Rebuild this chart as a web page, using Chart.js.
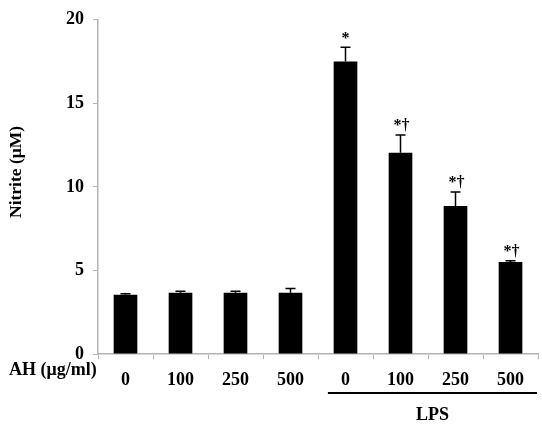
<!DOCTYPE html>
<html>
<head>
<meta charset="utf-8">
<script src="https://cdn.jsdelivr.net/npm/chart.js@4"></script>
<style>
  body { margin: 0; background: #fff; }
  #wrap { width: 542px; height: 427px; }
</style>
</head>
<body>
<div id="wrap"><canvas id="nitriteChart" width="542" height="427"></canvas></div>
<script>
const categories = ["0", "100", "250", "500", "0", "100", "250", "500"];
const nitrite = [3.55, 3.67, 3.67, 3.67, 17.5, 12.05, 8.85, 5.5];
const errors = [0.05, 0.08, 0.08, 0.25, 0.85, 1.05, 0.85, 0.08];
const marks = ["", "", "", "", "*", "*†", "*†", "*†"];
const yTicks = [0, 5, 10, 15, 20];

const serif = "'Liberation Serif', 'Times New Roman', serif";
const axisGray = "#b4b4b4";

// error bars, significance marks, axis titles and the LPS bracket
const extras = {
  id: "extras",
  afterDatasetsDraw(chart) {
    const ctx = chart.ctx;
    const x = chart.scales.x;
    const y = chart.scales.y;
    ctx.save();
    ctx.strokeStyle = "#000";
    ctx.lineWidth = 1.5;
    nitrite.forEach((v, i) => {
      const cx = x.getPixelForValue(i);
      const top = y.getPixelForValue(v + errors[i]);
      const base = y.getPixelForValue(v);
      ctx.beginPath();
      ctx.moveTo(cx, base);
      ctx.lineTo(cx, top);
      ctx.moveTo(cx - 5, top);
      ctx.lineTo(cx + 5, top);
      ctx.stroke();
      if (marks[i]) {
        ctx.fillStyle = "#000";
        ctx.font = "bold 16px " + serif;
        ctx.textAlign = "center";
        ctx.textBaseline = "bottom";
        ctx.fillText(marks[i], cx + (marks[i].length > 1 ? 1 : 0), top - 1);
      }
    });

    ctx.fillStyle = "#000";
    ctx.font = "bold 18px " + serif;
    ctx.textAlign = "left";
    ctx.textBaseline = "middle";
    ctx.fillText("AH (μg/ml)", 9, 370);

    ctx.save();
    ctx.translate(16, 172);
    ctx.rotate(-Math.PI / 2);
    ctx.textAlign = "center";
    ctx.font = "bold 17.5px " + serif;
    ctx.fillText("Nitrite (μM)", 0, 0);
    ctx.restore();

    const step = x.getPixelForValue(1) - x.getPixelForValue(0);
    const x0 = x.getPixelForValue(4) - step * 0.32;
    const x1 = x.right - 1;
    ctx.lineWidth = 2;
    ctx.beginPath();
    ctx.moveTo(x0, 393);
    ctx.lineTo(x1, 393);
    ctx.stroke();
    ctx.textAlign = "center";
    ctx.fillText("LPS", (x0 + x1) / 2, 415);
    ctx.restore();
  }
};

new Chart(document.getElementById("nitriteChart"), {
  type: "bar",
  data: {
    labels: categories,
    datasets: [{
      label: "Nitrite",
      data: nitrite,
      backgroundColor: "#000",
      borderWidth: 0,
      categoryPercentage: 1,
      barPercentage: 0.43
    }]
  },
  options: {
    responsive: false,
    animation: false,
    layout: { padding: { top: 11, right: 4, left: 0, bottom: 0 } },
    plugins: {
      legend: { display: false },
      tooltip: { enabled: false }
    },
    scales: {
      x: {
        afterFit(scale) { scale.height = 73; },
        grid: { drawOnChartArea: false, tickLength: 5, color: axisGray, offset: true },
        border: { color: axisGray, width: 1.5 },
        ticks: {
          color: "#000",
          padding: 11,
          font: { family: serif, size: 18, weight: "bold" }
        }
      },
      y: {
        min: 0,
        max: 20,
        afterFit(scale) { scale.width = 98; },
        afterBuildTicks(scale) { scale.ticks = yTicks.map(v => ({ value: v })); },
        grid: { drawOnChartArea: false, tickLength: 5, color: axisGray },
        border: { color: axisGray, width: 1.5 },
        ticks: {
          color: "#000",
          padding: 9,
          font: { family: serif, size: 18, weight: "bold" }
        }
      }
    }
  },
  plugins: [extras]
});
</script>
</body>
</html>
